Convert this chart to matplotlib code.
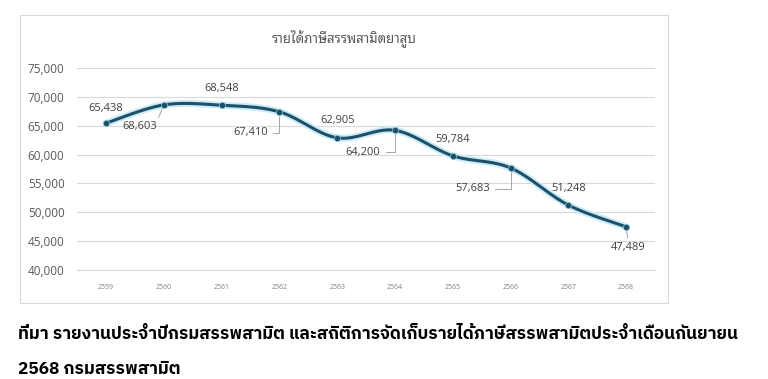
import matplotlib
matplotlib.use("Agg")
import matplotlib.pyplot as plt
import numpy as np

years = ["2559", "2560", "2561", "2562", "2563", "2564", "2565", "2566", "2567", "2568"]
revenue = [65438, 68603, 68548, 67410, 62905, 64200, 59784, 57683, 51248, 47489]
title = "รายได้ภาษีสรรพสามิตยาสูบ"
caption_lines = ["ที่มา รายงานประจำปีกรมสรรพสามิต และสถิติการจัดเก็บรายได้ภาษีสรรพสามิตประจำเดือนกันยายน",
                 "2568 กรมสรรพสามิต"]

plt.rcParams["font.family"] = ["Open Sans", "DejaVu Sans"]


def smooth(y, steps=20):
    # Bezier smoothing like spreadsheet "smoothed line"
    x = np.arange(len(y), dtype=float)
    y = np.asarray(y, dtype=float)
    pts = np.column_stack([x, y])
    out = []
    n = len(pts)
    for i in range(n - 1):
        p0 = pts[max(i - 1, 0)]
        p1 = pts[i]
        p2 = pts[i + 1]
        p3 = pts[min(i + 2, n - 1)]
        c1 = p1 + (p2 - p0) / 6
        c2 = p2 - (p3 - p1) / 6
        t = np.linspace(0, 1, steps)[:, None]
        seg = (1 - t) ** 3 * p1 + 3 * (1 - t) ** 2 * t * c1 + 3 * (1 - t) * t ** 2 * c2 + t ** 3 * p2
        out.append(seg if i == 0 else seg[1:])
    out = np.vstack(out)
    return out[:, 0], out[:, 1]


fig = plt.figure(figsize=(7.68, 3.79), dpi=100)

# chart frame
frame = plt.Rectangle((0.026, 0.2005), 0.844, 0.76, transform=fig.transFigure,
                      fill=False, edgecolor="#d9d9d9", linewidth=0.8)
fig.patches.append(frame)

ax = fig.add_axes([0.1003, 0.2876, 0.7526, 0.533])
ax.set_xlim(-0.5, len(years) - 0.5)
ax.set_ylim(40000, 75000)
ax.set_yticks(np.arange(40000, 75001, 5000))
ax.yaxis.set_major_formatter(matplotlib.ticker.FuncFormatter(lambda v, p: f"{v:,.0f}"))
ax.set_xticks(range(len(years)))
ax.set_xticklabels(years)
ax.grid(axis="y", color="#d9d9d9", linewidth=0.8)
ax.set_axisbelow(True)
for s in ["top", "right", "left"]:
    ax.spines[s].set_visible(False)
ax.spines["bottom"].set_color("#d9d9d9")
ax.tick_params(axis="both", length=0)
ax.tick_params(axis="y", labelsize=8.5, labelcolor="#595959", pad=9)
ax.tick_params(axis="x", labelsize=5, labelcolor="#7f7f7f", pad=10)

sx, sy = smooth(revenue)
ax.plot(sx, sy, color="#c9ecf8", linewidth=5, solid_capstyle="round", zorder=2)
ax.plot(sx, sy, color="#1f5068", linewidth=2.2, solid_capstyle="round", zorder=3)
ax.plot(range(len(years)), revenue, "o", color="#1f5068", markersize=4.5,
        markeredgecolor="#8fc9dc", markeredgewidth=0.5, zorder=4)

# label offsets in pixels (dx, dy) and leader style
offsets = [(0, 15, None), (-24, -22, "line"), (0, 17, None), (-29, -21, "angle"),
           (1, 17, None), (-32, -22, "angle"), (0, 16, None), (-38, -21, "angle"),
           (0, 17, None), (2, -21, "line")]
for i, (v, (dx, dy, lead)) in enumerate(zip(revenue, offsets)):
    kw = {}
    if lead == "angle":
        kw["arrowprops"] = dict(arrowstyle="-", color="#a6a6a6", linewidth=0.7,
                                shrinkA=2, shrinkB=3, relpos=(1, 0.5),
                                connectionstyle="angle,angleA=0,angleB=90,rad=0")
    elif lead == "line":
        kw["arrowprops"] = dict(arrowstyle="-", color="#a6a6a6", linewidth=0.7,
                                shrinkA=1, shrinkB=3,
                                relpos=(1, 1) if dx < 0 else (0.5, 1))
    ax.annotate(f"{v:,}", xy=(i, v), xytext=(dx, dy), textcoords="offset pixels",
                ha="center", va="center", fontsize=8, color="#404040", zorder=5, **kw)

fig.text(0.448, 0.90, title, ha="center", va="center", fontsize=9.5,
         color="#595959", family=["Noto Sans Thai Looped", "DejaVu Sans"])
for k, line in enumerate(caption_lines):
    fig.text(0.023, 0.1055 - k * 0.0923, line, ha="left", va="baseline", fontsize=12.4,
             fontweight="bold", color="#000000",
             family=["IBM Plex Sans Thai", "DejaVu Sans"])

fig.savefig("out.png", dpi=100)
